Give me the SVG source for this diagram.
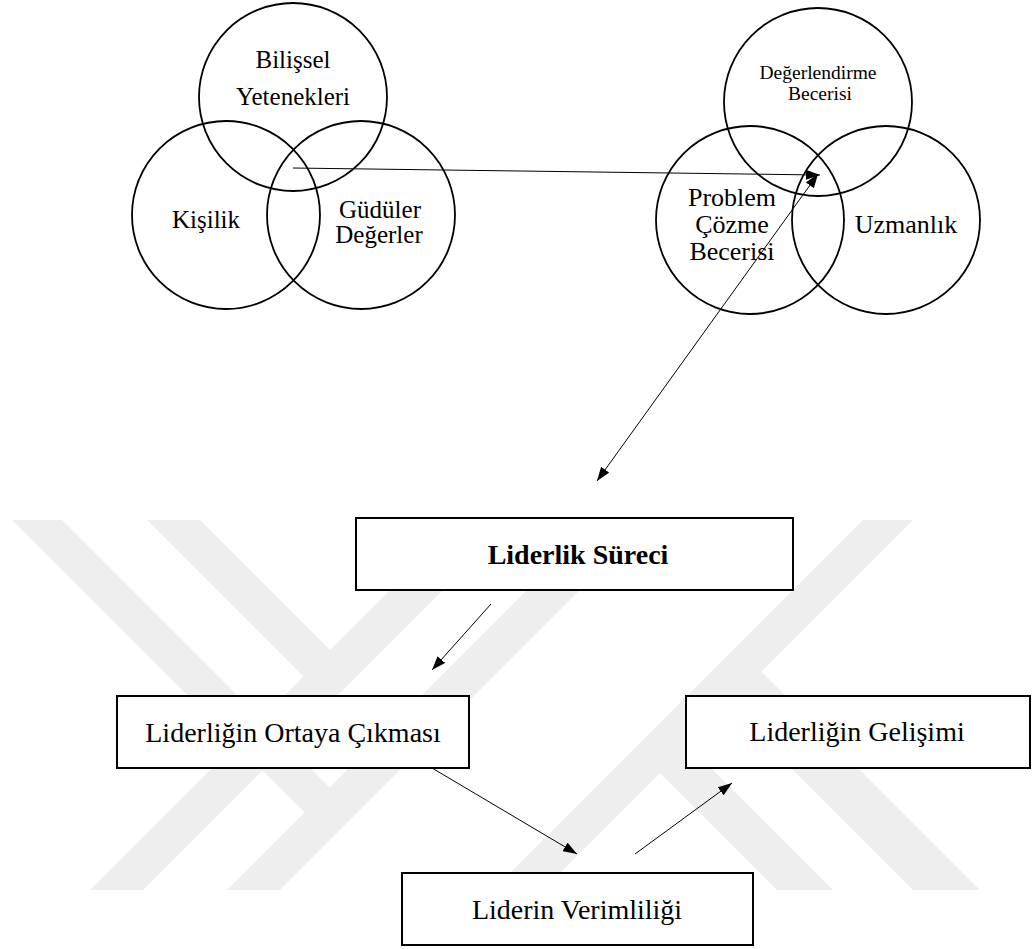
<svg xmlns="http://www.w3.org/2000/svg" width="1033" height="949" viewBox="0 0 1033 949">
  <defs>
    <marker id="arrow" viewBox="0 0 14 10" refX="14" refY="5" markerWidth="14" markerHeight="10" markerUnits="userSpaceOnUse" orient="auto-start-reverse">
      <path d="M0,0 L14,5 L0,10 z" fill="#000"/>
    </marker>
    <style>
      .circle { fill: none; stroke: #000; stroke-width: 1.8; }
      .box { fill: #fff; stroke: #000; stroke-width: 2; }
      .edge { fill: none; stroke: #000; stroke-width: 1; marker-end: url(#arrow); }
      .label { font-family: "Liberation Serif", "Times New Roman", serif; fill: #000; text-anchor: middle; }
      .wm { fill: #eeeeee; }
    </style>
  </defs>

  <rect width="1033" height="949" fill="#fff"/>

  <!-- background mark: diagonal stripes -->
  <g id="watermark">
    <polygon class="wm" points="90,890 143,890 513,520 460,520"/>
    <polygon class="wm" points="227,890 280,890 650,520 597,520"/>
    <polygon class="wm" points="147,520 200,520 343,663 317,690"/>
    <polygon class="wm" points="12,520 62,520 343,801 318,826"/>
    <polygon class="wm" points="863,520 913,520 543,890 493,890"/>
    <polygon class="wm" points="647.5,760.5 675.5,732.5 833,890 777,890"/>
    <polygon class="wm" points="715.5,692.5 749,659 980,890 913,890"/>
  </g>

  <!-- personal attributes -->
  <g id="bilissel">
    <circle class="circle" cx="293" cy="97" r="94"/>
    <text class="label" x="293" y="68" font-size="25">Bilişsel</text>
    <text class="label" x="293" y="105" font-size="25">Yetenekleri</text>
  </g>
  <g id="kisilik">
    <circle class="circle" cx="226" cy="215" r="94"/>
    <text class="label" x="206" y="228" font-size="25">Kişilik</text>
  </g>
  <g id="guduler">
    <circle class="circle" cx="361" cy="215" r="94"/>
    <text class="label" x="380" y="218" font-size="25">Güdüler</text>
    <text class="label" x="379" y="243" font-size="25">Değerler</text>
  </g>

  <!-- competencies -->
  <g id="degerlendirme">
    <circle class="circle" cx="818" cy="102" r="94"/>
    <text class="label" x="818" y="79" font-size="19.5">Değerlendirme</text>
    <text class="label" x="820" y="100" font-size="19.5">Becerisi</text>
  </g>
  <g id="problem">
    <circle class="circle" cx="750" cy="220" r="94"/>
    <text class="label" x="732" y="206" font-size="26">Problem</text>
    <text class="label" x="732" y="233" font-size="26">Çözme</text>
    <text class="label" x="732" y="260" font-size="26">Becerisi</text>
  </g>
  <g id="uzmanlik">
    <circle class="circle" cx="886" cy="220" r="94"/>
    <text class="label" x="906" y="233" font-size="26">Uzmanlık</text>
  </g>

  <!-- process boxes -->
  <g id="surec">
    <rect class="box" x="356" y="518" width="437" height="72"/>
    <text class="label" x="578" y="564" font-size="28" font-weight="bold">Liderlik Süreci</text>
  </g>
  <g id="ortaya">
    <rect class="box" x="117" y="696" width="352" height="72"/>
    <text class="label" x="293" y="742" font-size="28">Liderliğin Ortaya Çıkması</text>
  </g>
  <g id="gelisim">
    <rect class="box" x="686" y="696" width="344" height="72"/>
    <text class="label" x="857" y="741" font-size="28">Liderliğin Gelişimi</text>
  </g>
  <g id="verim">
    <rect class="box" x="402" y="873" width="351" height="72"/>
    <text class="label" x="577" y="919" font-size="28">Liderin Verimliliği</text>
  </g>

  <!-- connectors -->
  <g id="connectors">
    <line class="edge" x1="293" y1="168" x2="820" y2="175"/>
    <line class="edge" x1="818" y1="174" x2="597" y2="481" marker-start="url(#arrow)"/>
    <line class="edge" x1="491" y1="604" x2="432" y2="670"/>
    <line class="edge" x1="432" y1="768" x2="577" y2="854"/>
    <line class="edge" x1="635" y1="854" x2="732" y2="783"/>
  </g>
</svg>
